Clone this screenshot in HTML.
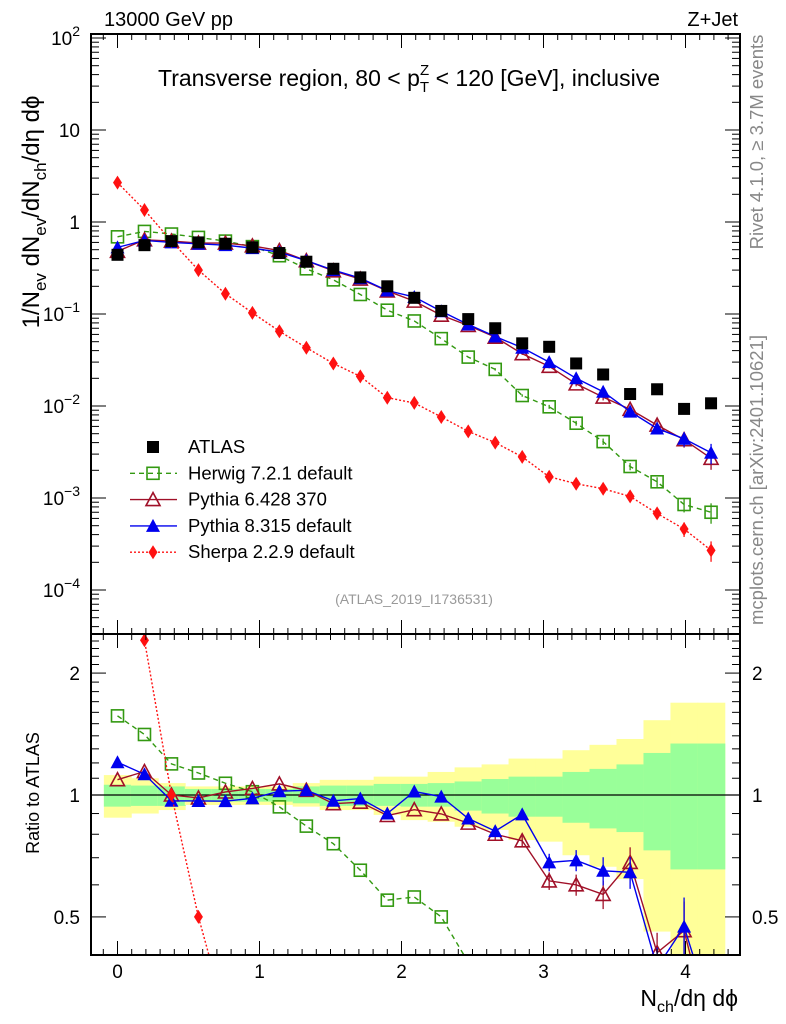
<!DOCTYPE html>
<html><head><meta charset="utf-8"><style>
html,body{margin:0;padding:0;background:#fff;overflow:hidden;width:786px;height:1024px;}
svg{font-family:"Liberation Sans",sans-serif;display:block;}
</style></head><body>
<svg id="chart" width="786" height="1024" viewBox="0 0 786 1024" xmlns="http://www.w3.org/2000/svg">
<defs>
<clipPath id="cm"><rect x="91" y="34" width="649" height="600"/></clipPath>
<clipPath id="cr"><rect x="91" y="634" width="649" height="321"/></clipPath>
</defs>
<g id="bands" clip-path="url(#cr)"></g>
<g id="main"></g>
<g id="ratio"></g>
<g id="axes"></g>
<text x="104" y="26" font-size="20">13000 GeV pp</text>
<text x="738" y="26" font-size="20" text-anchor="end">Z+Jet</text>
<text x="158" y="86" font-size="23">Transverse region, 80 &lt; p<tspan font-size="15" dy="6">T</tspan><tspan font-size="15" dx="-9" dy="-17">Z</tspan><tspan dy="11"> &lt; 120 [GeV], inclusive</tspan></text>
<text x="414" y="604" font-size="14" fill="#999" text-anchor="middle">(ATLAS_2019_I1736531)</text>
<text transform="translate(763,142) rotate(-90)" font-size="18.5" fill="#888" text-anchor="middle">Rivet 4.1.0, ≥ 3.7M events</text>
<text transform="translate(763,480) rotate(-90)" font-size="18.5" fill="#888" text-anchor="middle">mcplots.cern.ch [arXiv:2401.10621]</text>
<text transform="translate(39,212) rotate(-90)" font-size="24" text-anchor="middle">1/N<tspan font-size="17" dy="7">ev</tspan><tspan dy="-7"> dN</tspan><tspan font-size="17" dy="7">ev</tspan><tspan dy="-7">/dN</tspan><tspan font-size="17" dy="7">ch</tspan><tspan dy="-7">/dη dϕ</tspan></text>
<text transform="translate(39,793) rotate(-90)" font-size="18" text-anchor="middle">Ratio to ATLAS</text>
<text x="738" y="1006" font-size="23" text-anchor="end">N<tspan font-size="16" dy="6">ch</tspan><tspan dy="-6">/dη dϕ</tspan></text>
<g id="legend"></g>
</svg>
<script>
const xCenters=[0,0.19,0.38,0.57,0.76,0.95,1.14,1.33,1.52,1.71,1.9,2.09,2.28,2.47,2.66,2.85,3.04,3.23,3.42,3.61,3.8,3.99,4.18];
const atlas=[0.44,0.56,0.62,0.60,0.58,0.53,0.46,0.37,0.31,0.25,0.20,0.15,0.108,0.088,0.070,0.048,0.044,0.029,0.022,0.0135,0.0152,0.0093,0.0107];
const herwig=[0.69,0.79,0.74,0.68,0.62,0.54,0.43,0.31,0.235,0.163,0.11,0.084,0.054,0.034,0.025,0.013,0.0098,0.0065,0.0041,0.0022,0.0015,0.00085,0.00070];
const pythia6=[0.48,0.64,0.62,0.59,0.59,0.55,0.49,0.38,0.295,0.24,0.178,0.138,0.097,0.075,0.056,0.037,0.027,0.0174,0.0125,0.0092,0.0062,0.0043,0.0027];
const pythia8=[0.53,0.63,0.60,0.58,0.56,0.52,0.47,0.38,0.30,0.245,0.18,0.153,0.107,0.077,0.057,0.043,0.030,0.020,0.0143,0.0087,0.0057,0.0044,0.0031];
const sherpa=[2.68,1.35,0.62,0.30,0.166,0.103,0.065,0.043,0.029,0.021,0.0123,0.0108,0.0076,0.0053,0.0040,0.0028,0.0017,0.00143,0.00126,0.00104,0.00068,0.00046,0.00027];
const mcRelErr=[0.01,0.01,0.01,0.01,0.01,0.01,0.01,0.01,0.01,0.01,0.02,0.02,0.02,0.02,0.03,0.03,0.05,0.06,0.08,0.09,0.12,0.18,0.25];
const yellowUp=[1.12,1.10,1.07,1.05,1.05,1.05,1.05,1.07,1.09,1.09,1.11,1.11,1.14,1.17,1.19,1.23,1.23,1.29,1.33,1.375,1.53,1.69,1.69];
const yellowDn=[0.879,0.90,0.918,0.945,0.945,0.945,0.945,0.936,0.918,0.918,0.893,0.867,0.859,0.835,0.82,0.774,0.767,0.71,0.665,0.62,0.46,0.3,0.3];
const greenUp=[1.06,1.055,1.05,1.035,1.035,1.035,1.035,1.05,1.055,1.055,1.065,1.065,1.07,1.08,1.095,1.11,1.11,1.14,1.16,1.19,1.27,1.34,1.34];
const greenDn=[0.936,0.94,0.94,0.963,0.963,0.963,0.963,0.954,0.94,0.94,0.94,0.936,0.936,0.915,0.90,0.884,0.884,0.854,0.827,0.81,0.73,0.655,0.655];
const NS='http://www.w3.org/2000/svg';
const X=v=>117.5+142*v;
const Ym=v=>222-92*Math.log10(v);
const Yr=v=>795-405*Math.log10(v);
const binW=0.192;
function mk(tag,attrs,parent){const e=document.createElementNS(NS,tag);for(const k in attrs)e.setAttribute(k,attrs[k]);parent.appendChild(e);return e;}
const bands=document.getElementById('bands');
xCenters.forEach((c,i)=>{
  const x0=X(c-binW/2),w=142*binW+0.6;
  const r1=mk('rect',{x:x0,y:Yr(yellowUp[i]),width:w,height:Yr(yellowDn[i])-Yr(yellowUp[i]),fill:'#ffff99'},bands);
  
  
  const r2=mk('rect',{x:x0,y:Yr(greenUp[i]),width:w,height:Yr(greenDn[i])-Yr(greenUp[i]),fill:'#99ff99'},bands);
  
  
});
const ax=document.getElementById('axes');
const l1=mk('line',{x1:91,x2:740,y1:Yr(1),y2:Yr(1),stroke:'#000','stroke-width':1.2},document.getElementById('ratio'));


function marker(g,type,x,y,color){
  if(type==='sq'){return mk('rect',{x:x-6,y:y-6,width:12,height:12,fill:'#000'},g);}
  if(type==='osq'){return mk('rect',{x:x-6,y:y-6,width:12,height:12,fill:'#fff','fill-opacity':0,stroke:color,'stroke-width':1.6},g);}
  if(type==='otri'){return mk('polygon',{points:`${x},${y-7} ${x-7},${y+6} ${x+7},${y+6}`,fill:'none',stroke:color,'stroke-width':1.6},g);}
  if(type==='tri'){return mk('polygon',{points:`${x},${y-7} ${x-7},${y+6} ${x+7},${y+6}`,fill:color},g);}
  if(type==='dia'){return mk('polygon',{points:`${x},${y-7} ${x-4.5},${y} ${x},${y+7} ${x+4.5},${y}`,fill:color},g);}
}
const series=[
 {name:'herwig',data:herwig,color:'#339911',type:'osq',dash:'5,4',label:'Herwig 7.2.1 default'},
 {name:'pythia6',data:pythia6,color:'#a01028',type:'otri',dash:'',label:'Pythia 6.428 370'},
 {name:'pythia8',data:pythia8,color:'#0000ee',type:'tri',dash:'',label:'Pythia 8.315 default'},
 {name:'sherpa',data:sherpa,color:'#ff1111',type:'dia',dash:'2,2',label:'Sherpa 2.2.9 default'}
];
function draw(parent,clip,Yf,valFn,s){
  const g=mk('g',{'clip-path':clip},parent);
  
  
  const pts=xCenters.map((c,i)=>[X(c),Yf(valFn(i))]);
  const pl=mk('polyline',{points:pts.map(p=>p.join(',')).join(' '),fill:'none',stroke:s.color,'stroke-width':1.4,'stroke-dasharray':s.dash},g);
  
  
  xCenters.forEach((c,i)=>{
    const v=valFn(i),e=mcRelErr[i];
    if(e>0.02){const eb=mk('line',{x1:X(c),x2:X(c),y1:Yf(v*(1+e)),y2:Yf(v*(1-e)),stroke:s.color,'stroke-width':1.3},g);
      
      }
    const m=marker(g,s.type,X(c),Yf(v),s.color);
    
    
  });
}
const mainG=document.getElementById('main'),ratG=document.getElementById('ratio');
series.forEach(s=>draw(mainG,'url(#cm)',Ym,i=>s.data[i],s));
const ag=mk('g',{},mainG);


xCenters.forEach((c,i)=>{const m=marker(ag,'sq',X(c),Ym(atlas[i]));
  
  });
series.forEach(s=>draw(ratG,'url(#cr)',Yr,i=>s.data[i]/atlas[i],s));
const f1=mk('rect',{x:91,y:34,width:649,height:600,fill:'none',stroke:'#000','stroke-width':2},ax);


const f2=mk('rect',{x:91,y:634,width:649,height:321,fill:'none',stroke:'#000','stroke-width':2},ax);


for(let k=-1;k<=43;k++){const v=k/10;const x=X(v);if(x<92||x>739)continue;const maj=k%10===0;const L=maj?14:6;
  [[34,34+L],[634-L,634],[634,634+L],[955-L,955]].forEach(([a,b])=>{const t=mk('line',{x1:x,x2:x,y1:a,y2:b,stroke:'#000','stroke-width':1},ax);
    
    });
  if(maj){const t=mk('text',{x:x,y:978,'font-size':19,'text-anchor':'middle'},ax);t.textContent=String(k/10);
    
    }}
for(let d=-5;d<=2;d++){for(let m=1;m<10;m++){const v=m*Math.pow(10,d);const y=Ym(v);if(y<35||y>633)continue;const L=m===1?15:8;
  [[91,91+L],[740-L,740]].forEach(([a,b])=>{const t=mk('line',{x1:a,x2:b,y1:y,y2:y,stroke:'#000','stroke-width':1},ax);
    
    });
  if(m===1){const t=mk('text',{x:80,y:y+7,'font-size':19,'text-anchor':'end'},ax);
    if(d===0)t.textContent='1';else if(d===1)t.textContent='10';else{t.textContent='10';const sp=mk('tspan',{'font-size':14,dy:-9},t);sp.textContent=String(d).replace('-','−');}
    
    }}}
const rt=[0.4,0.5,0.6,0.7,0.8,0.9,1,1.1,1.2,1.3,1.4,1.5,1.6,1.7,1.8,1.9,2,2.1,2.2,2.3,2.4,2.5];
rt.forEach(v=>{const y=Yr(v);if(y<635||y>954)return;const maj=(v===0.5||v===1||v===2);const L=maj?15:8;
  [[91,91+L],[740-L,740]].forEach(([a,b])=>{const t=mk('line',{x1:a,x2:b,y1:y,y2:y,stroke:'#000','stroke-width':1},ax);
    
    });
  if(maj){[[80,'end'],[752,'start']].forEach(([x,an])=>{const t=mk('text',{x:x,y:y+7,'font-size':19,'text-anchor':an},ax);t.textContent=String(v);
    
    });}});
const lg=document.getElementById('legend');
const rows=[{label:'ATLAS',type:'sq',color:'#000',dash:null}].concat(series);
rows.forEach((s,i)=>{const y=447+26.3*i;const g=mk('g',{},lg);
  
  
  if(s.dash!==null)mk('line',{x1:130,x2:177,y1:y,y2:y,stroke:s.color,'stroke-width':1.4,'stroke-dasharray':s.dash},g);
  marker(g,s.type,153,y,s.color);
  const t=mk('text',{x:188,y:y+6,'font-size':18.5},g);t.textContent=s.label;});
</script>
</body></html>
